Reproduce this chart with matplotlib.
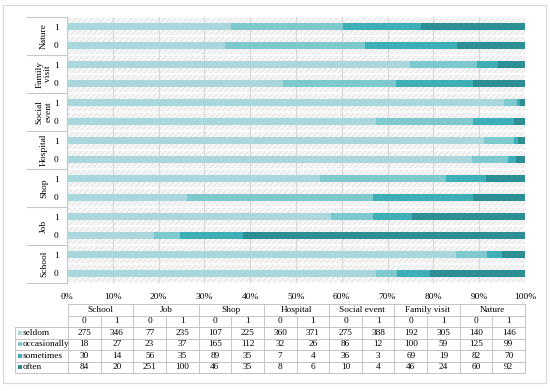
import matplotlib
matplotlib.use("Agg")
import matplotlib.pyplot as plt
import numpy as np
from matplotlib.patches import Rectangle

plt.rcParams['font.family'] = ['Liberation Serif', 'DejaVu Serif']
plt.rcParams['hatch.linewidth'] = 0.5

groups = ['School', 'Job', 'Shop', 'Hospital', 'Social event', 'Family visit', 'Nature']
group_axis_labels = ['School', 'Job', 'Shop', 'Hospital', 'Social\nevent', 'Family\nvisit', 'Nature']
levels = ['0', '1']
series_names = ['seldom', 'occasionally', 'sometimes', 'often']
seldom = [275, 346, 77, 235, 107, 225, 360, 371, 275, 388, 192, 305, 140, 146]
occasionally = [18, 27, 23, 37, 165, 112, 32, 26, 86, 12, 100, 59, 125, 99]
sometimes = [30, 14, 56, 35, 89, 35, 7, 4, 36, 3, 69, 19, 82, 70]
often = [84, 20, 251, 100, 46, 35, 8, 6, 10, 4, 46, 24, 60, 92]
colors = ['#a9d7db', '#7ec9ce', '#3eafb6', '#2d8e93']

W, H = 550, 391
fig = plt.figure(figsize=(W / 100, H / 100), dpi=100)

# layout in pixels
px_l, px_r, px_t, px_b = 67, 525, 17, 283
ax = fig.add_axes([px_l / W, 1 - px_b / H, (px_r - px_l) / W, (px_b - px_t) / H])

data = np.array([seldom, occasionally, sometimes, often], dtype=float)
pct = data / data.sum(axis=0)
n = data.shape[1]
y = np.arange(n)

# hatched background
ax.set_facecolor('#f6f6f6')
ax.add_patch(Rectangle((0, 0), 1, 1, transform=ax.transAxes, facecolor='none',
                       edgecolor='#dedede', hatch='//////', lw=0, zorder=0))
for k in range(n + 1):
    ax.axhline(k - 0.5, color='white', lw=1.2, zorder=0.5)

left = np.zeros(n)
for i, name in enumerate(series_names):
    ax.barh(y, pct[i], left=left, height=0.37, color=colors[i], zorder=3, lw=0)
    left += pct[i]

ax.set_xlim(0, 1)
ax.set_ylim(-0.5, n - 0.5)
ax.set_xticks(np.arange(0, 1.01, 0.1))
ax.set_xticklabels([f'{int(round(v * 100))}%' for v in np.arange(0, 1.01, 0.1)], fontsize=6.8)
ax.grid(axis='x', color='#d6d6d6', lw=0.8, zorder=1)
ax.set_yticks(y)
ax.set_yticklabels([levels[i % 2] for i in range(n)], fontsize=6.8)
ax.tick_params(axis='both', length=0)
ax.tick_params(axis='x', pad=7)
ax.tick_params(axis='y', pad=6)
for s in ['top', 'right', 'bottom']:
    ax.spines[s].set_visible(False)
ax.spines['left'].set_color('#c8c8c8')
ax.spines['left'].set_linewidth(0.8)

tr = ax.get_yaxis_transform()
x_sep = (27 - px_l) / (px_r - px_l)
x_lab = (44 - px_l) / (px_r - px_l)
for g in range(len(groups) + 1):
    ax.plot([x_sep, 0], [2 * g - 0.5] * 2, transform=tr, color='#c8c8c8', lw=0.8, clip_on=False)
for g, lab in enumerate(group_axis_labels):
    ax.text(x_lab, 2 * g + 0.5, lab, transform=tr, rotation=90, ha='center', va='center',
            fontsize=6.8, linespacing=1.1)

# overlay axes for table and frame, in pixel coords
ov = fig.add_axes([0, 0, 1, 1])
ov.set_xlim(0, W)
ov.set_ylim(H, 0)
ov.axis('off')
ov.patch.set_alpha(0)

ov.add_patch(Rectangle((3, 5), 543, 378, facecolor='none', edgecolor='#d9d9d9', lw=0.9))

lc = '#c4c4c4'
tab_l, tab_r = 68, 525
leg_l = 15
rows = [304, 315.5, 327, 338.5, 350, 361.5, 373]
colw = (tab_r - tab_l) / n
# horizontal lines
ov.plot([tab_l, tab_r], [rows[0]] * 2, color=lc, lw=0.7)
ov.plot([tab_l, tab_r], [rows[1]] * 2, color=lc, lw=0.7)
for r in rows[2:]:
    ov.plot([leg_l, tab_r], [r] * 2, color=lc, lw=0.7)
# vertical lines
ov.plot([leg_l, leg_l], [rows[2], rows[-1]], color=lc, lw=0.7)
for c in range(n + 1):
    x = tab_l + c * colw
    if c % 2 == 0:
        ov.plot([x, x], [rows[0], rows[-1]], color=lc, lw=0.7)
    else:
        ov.plot([x, x], [rows[1], rows[-1]], color=lc, lw=0.7)

fs = 6.7
for g, name in enumerate(groups):
    ov.text(tab_l + (2 * g + 1) * colw, (rows[0] + rows[1]) / 2, name, ha='center', va='center', fontsize=fs)
for c in range(n):
    ov.text(tab_l + (c + 0.5) * colw, (rows[1] + rows[2]) / 2, levels[c % 2], ha='center', va='center', fontsize=fs)
for i, name in enumerate(series_names):
    yc = (rows[2 + i] + rows[3 + i]) / 2
    ov.add_patch(Rectangle((17.5, yc - 2), 4, 4, facecolor=colors[i], lw=0))
    ov.text(23, yc, name, ha='left', va='center', fontsize=fs)
    for c in range(n):
        ov.text(tab_l + (c + 0.5) * colw, yc, f'{int(data[i, c])}', ha='center', va='center', fontsize=fs)

fig.savefig('out.png', dpi=100)
